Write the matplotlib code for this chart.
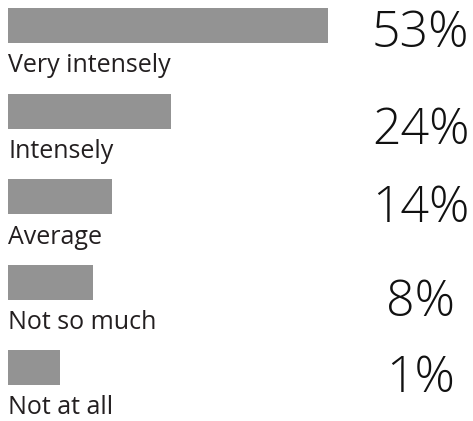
import matplotlib
matplotlib.use("Agg")
import matplotlib.pyplot as plt

# rows, top to bottom
labels = ["Very intensely", "Intensely", "Average", "Not so much", "Not at all"]
percents = ["53%", "24%", "14%", "8%", "1%"]
# bar lengths as drawn in the picture (same unit as the 53% bar)
bar_widths = [53, 27, 17.2, 14.1, 8.6]

W, H = 473, 421
px_per_unit = 320 / 53.0
row_px = 85.5
first_center = 25.5

fig = plt.figure(figsize=(W / 100, H / 100), dpi=100)
ax = fig.add_axes([0, 0, 1, 1])
ax.set_xlim(-8 / px_per_unit, (W - 8) / px_per_unit)
ax.set_ylim((H - first_center) / row_px, -first_center / row_px)
ax.axis("off")

rows = list(range(len(labels)))
ax.barh(rows, bar_widths, height=35 / row_px, left=0, color="#939393")

# vertical nudges of the percent text, pixels
pct_nudge = [8.5, 20, 12, 21, 11]
pct_x = (420.5 - 8) / px_per_unit

for i in rows:
    ax.text(0, i + 47 / row_px, labels[i], ha="left", va="baseline",
            fontsize=18, color="#231f20", family="Open Sans")
    ax.text(pct_x, i + pct_nudge[i] / row_px, percents[i], ha="center",
            va="center", fontsize=36, color="#111111", family="Open Sans",
            fontweight="light")

fig.savefig("out.png", dpi=100)
